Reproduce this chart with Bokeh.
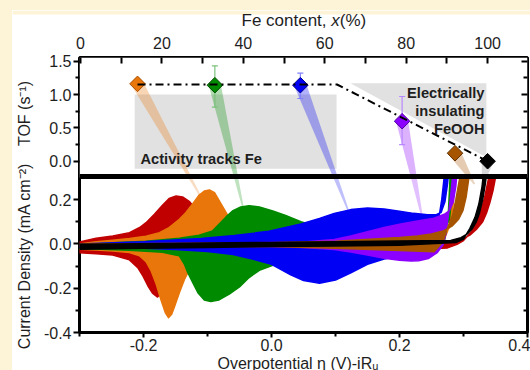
import numpy as np
from bokeh.plotting import figure
from bokeh.layouts import row, column
from bokeh.models import (Range1d, LinearAxis, FixedTicker, NumeralTickFormatter,
                          CustomJSTickFormatter, Label, Span, Spacer)
from bokeh.embed import file_html
from bokeh.resources import INLINE

FONT = "Liberation Sans"
INK = "#1e1e1e"
CREAM = "#FDF3D6"

# ---------------- TOF vs Fe content (upper panel) ----------------
fe_content = [14, 33, 54, 79, 92, 100]             # Fe content x (%)
tof_value = [1.16, 1.14, 1.14, 0.60, 0.12, 0.0]    # TOF (s^-1)
tof_err_low = [1.16, 0.81, 0.94, 0.25, 0.12, 0.0]
tof_err_high = [1.16, 1.43, 1.32, 0.97, 0.12, 0.0]
guide_fe = [14, 63, 100]
guide_tof = [1.15, 1.15, 0.0]

fe_ticks = [0, 20, 40, 60, 80, 100]
fe_minor = [10, 30, 50, 70, 90]
tof_ticks = [0.0, 0.5, 1.0, 1.5]
tof_minor = [0.25, 0.75, 1.25]

sample_fill = ["#E8760A", "#008A00", "#0000F5", "#8C00FF", "#A65400", "#000000"]
sample_edge = ["#A85000", "#004A00", "#00008A", "#5200A0", "#603000", "#000000"]
sample_err = ["#F0B07A", "#7CC27C", "#8080FF", "#B888FF", "#D0A070", "#808080"]
pointer_alpha = [0.3, 0.3, 0.3, 0.3, 0.3, 0.15]

# point of each voltammogram that the pointer from its TOF marker lands on
pointer_eta = [-0.112, -0.045, 0.120, 0.235, 0.317, 0.330]
pointer_j = [0.220, 0.170, 0.150, 0.125, 0.270, 0.270]

# ---------------- cyclic voltammograms (lower panel) ----------------
eta_ticks = [-0.2, 0.0, 0.2, 0.4]
eta_minor = [-0.3, -0.1, 0.1, 0.3]
j_ticks = [-0.4, -0.2, 0.0, 0.2]
j_minor = [-0.3, -0.1, 0.1]

red_eta_up = [-0.300, -0.274, -0.248, -0.222, -0.206, -0.196, -0.183, -0.170, -0.160, -0.149,
              -0.139, -0.128, -0.121, -0.112, -0.100, -0.085, -0.060, -0.020, 0.050, 0.150,
              0.250, 0.280, 0.300, 0.310, 0.320, 0.330, 0.336, 0.341, 0.346, 0.350, 0.354]
red_j_up = [0.009, 0.026, 0.036, 0.051, 0.074, 0.096, 0.134, 0.176, 0.205, 0.217,
            0.212, 0.191, 0.167, 0.130, 0.090, 0.055, 0.035, 0.025, 0.020, 0.018,
            0.012, 0.012, 0.025, 0.040, 0.065, 0.100, 0.140, 0.185, 0.240, 0.300, 0.360]
red_eta_dn = [0.344, 0.338, 0.333, 0.327, 0.320, 0.311, 0.300, 0.290, 0.275, 0.230,
              0.150, 0.050, -0.050, -0.100, -0.125, -0.140, -0.150, -0.160, -0.170, -0.178,
              -0.186, -0.193, -0.201, -0.209, -0.222, -0.248, -0.274, -0.300]
red_j_dn = [0.360, 0.280, 0.210, 0.150, 0.095, 0.050, 0.015, -0.002, -0.018, -0.024,
            -0.026, -0.028, -0.033, -0.045, -0.060, -0.080, -0.110, -0.165, -0.215, -0.240,
            -0.222, -0.190, -0.144, -0.107, -0.072, -0.050, -0.044, -0.040]

orange_eta_up = [-0.300, -0.274, -0.248, -0.222, -0.196, -0.175, -0.160, -0.144, -0.134, -0.123,
                 -0.113, -0.105, -0.097, -0.089, -0.082, -0.074, -0.066, -0.055, -0.040, -0.020,
                 0.050, 0.150, 0.250, 0.272, 0.279, 0.283, 0.286, 0.289]
orange_j_up = [0.000, 0.010, 0.017, 0.024, 0.035, 0.051, 0.074, 0.111, 0.141, 0.182,
               0.221, 0.239, 0.244, 0.232, 0.197, 0.157, 0.116, 0.080, 0.055, 0.040,
               0.030, 0.026, 0.030, 0.045, 0.080, 0.150, 0.260, 0.360]
orange_eta_dn = [0.285, 0.282, 0.278, 0.270, 0.250, 0.150, 0.050, -0.040, -0.080, -0.100,
                 -0.110, -0.120, -0.128, -0.136, -0.144, -0.152, -0.156, -0.161, -0.166, -0.173,
                 -0.180, -0.188, -0.196, -0.206, -0.222, -0.248, -0.274, -0.300]
orange_j_dn = [0.360, 0.200, 0.080, 0.020, -0.010, -0.020, -0.021, -0.026, -0.034, -0.045,
               -0.058, -0.080, -0.114, -0.160, -0.220, -0.287, -0.318, -0.333, -0.310, -0.250,
               -0.182, -0.122, -0.080, -0.054, -0.039, -0.032, -0.027, -0.024]

green_eta_up = [-0.300, -0.248, -0.196, -0.144, -0.113, -0.092, -0.082, -0.071, -0.061, -0.048,
                -0.035, -0.019, 0.002, 0.022, 0.046, 0.070, 0.120, 0.200, 0.250, 0.270,
                0.278, 0.282, 0.285]
green_j_up = [-0.005, 0.005, 0.012, 0.026, 0.039, 0.059, 0.089, 0.122, 0.149, 0.167,
              0.173, 0.167, 0.149, 0.129, 0.100, 0.080, 0.060, 0.050, 0.050, 0.065,
              0.110, 0.220, 0.360]
green_eta_dn = [0.280, 0.276, 0.270, 0.250, 0.200, 0.150, 0.100, 0.060, 0.030, 0.002,
                -0.019, -0.035, -0.050, -0.066, -0.082, -0.095, -0.105, -0.115, -0.123, -0.131,
                -0.136, -0.144, -0.170, -0.222, -0.300]
green_j_dn = [0.360, 0.120, 0.010, -0.030, -0.050, -0.060, -0.075, -0.085, -0.090, -0.096,
              -0.119, -0.152, -0.194, -0.227, -0.253, -0.260, -0.253, -0.220, -0.175, -0.129,
              -0.092, -0.054, -0.038, -0.029, -0.021]

blue_eta_up = [-0.300, -0.200, -0.110, -0.058, -0.004, 0.046, 0.075, 0.098, 0.124, 0.150,
               0.176, 0.200, 0.222, 0.244, 0.258, 0.265, 0.271, 0.275, 0.278]
blue_j_up = [0.000, 0.010, 0.025, 0.038, 0.057, 0.090, 0.115, 0.138, 0.155, 0.162,
             0.158, 0.148, 0.138, 0.132, 0.133, 0.142, 0.190, 0.270, 0.360]
blue_eta_dn = [0.272, 0.266, 0.260, 0.250, 0.230, 0.200, 0.176, 0.150, 0.124, 0.100,
               0.075, 0.050, 0.030, 0.000, -0.030, -0.060, -0.100, -0.150, -0.200, -0.300]
blue_j_dn = [0.360, 0.200, 0.090, 0.020, -0.040, -0.055, -0.068, -0.092, -0.130, -0.163,
             -0.178, -0.165, -0.140, -0.092, -0.068, -0.048, -0.034, -0.025, -0.020, -0.015]

purple_eta_up = [-0.300, -0.100, 0.000, 0.046, 0.098, 0.124, 0.150, 0.176, 0.202, 0.228,
                 0.254, 0.270, 0.278, 0.284, 0.288, 0.291]
purple_j_up = [-0.002, 0.003, 0.006, 0.008, 0.020, 0.036, 0.055, 0.074, 0.090, 0.104,
               0.116, 0.134, 0.150, 0.190, 0.260, 0.360]
purple_eta_dn = [0.285, 0.280, 0.276, 0.272, 0.268, 0.259, 0.245, 0.230, 0.218, 0.200,
                 0.176, 0.150, 0.124, 0.098, 0.050, 0.000, -0.300]
purple_j_dn = [0.360, 0.220, 0.120, 0.040, -0.005, -0.039, -0.066, -0.076, -0.077, -0.074,
               -0.065, -0.050, -0.036, -0.025, -0.016, -0.012, -0.010]

brown_eta_up = [-0.300, 0.000, 0.100, 0.200, 0.228, 0.250, 0.268, 0.282, 0.292, 0.299,
                0.304, 0.308, 0.311]
brown_j_up = [0.000, 0.005, 0.012, 0.029, 0.036, 0.045, 0.058, 0.080, 0.110, 0.150,
              0.210, 0.290, 0.360]
brown_eta_dn = [0.298, 0.293, 0.288, 0.283, 0.274, 0.268, 0.254, 0.200, 0.100, 0.000, -0.300]
brown_j_dn = [0.360, 0.280, 0.200, 0.130, 0.065, 0.010, -0.035, -0.030, -0.020, -0.012, -0.008]

black_eta_up = [-0.300, -0.200, -0.100, 0.000, 0.100, 0.200, 0.280, 0.296, 0.306, 0.314,
                0.320, 0.325, 0.330, 0.334, 0.338]
black_j_up = [-0.002, 0.001, 0.004, 0.007, 0.010, 0.013, 0.016, 0.028, 0.045, 0.070,
              0.100, 0.140, 0.200, 0.270, 0.360]
black_eta_dn = [0.333, 0.329, 0.324, 0.318, 0.310, 0.300, 0.288, 0.200, 0.100, 0.000,
                -0.100, -0.200, -0.300]
black_j_dn = [0.360, 0.260, 0.180, 0.120, 0.070, 0.022, 0.006, -0.006, -0.009, -0.012,
              -0.016, -0.020, -0.024]

cv_colors = ["#C00000", "#E8760A", "#008A00", "#0000F5", "#8C00FF", "#A65400", "#000000"]
cv_loops = [
    (red_eta_up, red_j_up, red_eta_dn, red_j_dn),
    (orange_eta_up, orange_j_up, orange_eta_dn, orange_j_dn),
    (green_eta_up, green_j_up, green_eta_dn, green_j_dn),
    (blue_eta_up, blue_j_up, blue_eta_dn, blue_j_dn),
    (purple_eta_up, purple_j_up, purple_eta_dn, purple_j_dn),
    (brown_eta_up, brown_j_up, brown_eta_dn, brown_j_dn),
    (black_eta_up, black_j_up, black_eta_dn, black_j_dn),
]

# ---------------- page geometry ----------------
PAGE_W, PAGE_H = 530, 370
PAD_L, PAD_T = 12, 14           # cream margin, left and top
TITLE_REACH = 4                 # the title strip starts this far inside the cream margin
TITLE_H = 16                    # strip above the plot holding the Fe-content title
FOOT_H = 14                     # strip below the plot holding the overpotential title
YTITLE_W = 28                   # strip left of the plot holding the vertical titles
FRAME_W, FRAME_H = 448, 275     # one frame holds both panels
TOP_H = 118                     # height of the TOF panel
SPLIT_PX = 120                  # where the current-density panel begins
FRAME_X0, FRAME_Y0 = 79, 57     # frame corner on the page
ETA_RANGE = (-0.3, 0.4)
J_RANGE = (-0.4, 0.3)
FE_RANGE = (-0.25, 109.8)
TOF_RANGE = (-0.214, 1.555)

PLOT_Y0 = PAD_T + TITLE_H
PLOT_H = PAGE_H - PLOT_Y0 - FOOT_H
PLOT_X0 = PAD_L + YTITLE_W
PLOT_W = PAGE_W - PLOT_X0
BORDER_L = FRAME_X0 - PLOT_X0
BORDER_R = PLOT_W - BORDER_L - FRAME_W

j_per_px = (J_RANGE[1] - J_RANGE[0]) / (FRAME_H - SPLIT_PX)
Y_END = J_RANGE[1] + SPLIT_PX * j_per_px
tof_per_px = (TOF_RANGE[1] - TOF_RANGE[0]) / TOP_H
TOF_FULL_LO = TOF_RANGE[1] - FRAME_H * tof_per_px
eta_per_px = (ETA_RANGE[1] - ETA_RANGE[0]) / FRAME_W
fe_per_px = (FE_RANGE[1] - FE_RANGE[0]) / FRAME_W
# TOF expressed on the current-density axis: tof = a * y + b
tof_a = tof_per_px / j_per_px
tof_b = TOF_RANGE[1] - Y_END * tof_a


def mid_from_baseline(baseline_py, size_px):
    """Labels are anchored on the middle of their text box; convert from a baseline."""
    return baseline_py - 0.3465 * size_px


def page_to_data(px, py):
    return (ETA_RANGE[0] + (px - FRAME_X0) * eta_per_px,
            Y_END - (py - FRAME_Y0) * j_per_px)


def fe_tof_to_page(fe, t):
    return (FRAME_X0 + (fe - FE_RANGE[0]) / fe_per_px,
            FRAME_Y0 + (TOF_RANGE[1] - t) / tof_per_px)


def eta_j_to_page(e, j):
    return (FRAME_X0 + (e - ETA_RANGE[0]) / eta_per_px,
            FRAME_Y0 + (Y_END - j) / j_per_px)


p = figure(width=PLOT_W, height=PLOT_H,
           x_range=Range1d(*ETA_RANGE), y_range=Range1d(J_RANGE[0], Y_END),
           min_border_left=BORDER_L, min_border_right=BORDER_R,
           min_border_top=FRAME_Y0 - PLOT_Y0,
           min_border_bottom=PLOT_H - (FRAME_Y0 - PLOT_Y0) - FRAME_H,
           toolbar_location=None, output_backend="svg")
p.extra_x_ranges = {"fe": Range1d(*FE_RANGE)}
p.extra_y_ranges = {"tof": Range1d(TOF_FULL_LO, TOF_RANGE[1])}
p.xgrid.visible = False
p.ygrid.visible = False
p.background_fill_color = "white"
p.border_fill_color = "white"
p.outline_line_color = "black"
p.outline_line_width = 3


def style_axis(ax, tick_out, tick_in, minor_out, minor_in, standoff):
    ax.axis_line_color = None
    ax.major_tick_line_color = "black"
    ax.major_tick_line_width = 2
    ax.minor_tick_line_color = "black"
    ax.minor_tick_line_width = 2
    ax.major_tick_out = tick_out
    ax.major_tick_in = tick_in
    ax.minor_tick_out = minor_out
    ax.minor_tick_in = minor_in
    ax.major_label_standoff = standoff
    ax.major_label_text_font = FONT
    ax.major_label_text_font_size = "16px"
    ax.major_label_text_color = INK


split_y = Y_END - (SPLIT_PX - 1) * j_per_px
left_major = j_ticks + [(t - tof_b) / tof_a for t in tof_ticks]
left_minor = j_minor + [(t - tof_b) / tof_a for t in tof_minor]
left_fmt = CustomJSTickFormatter(args=dict(split=split_y, a=tof_a, b=tof_b), code="""
    let v = tick > split ? a * tick + b : tick;
    if (Math.abs(v) < 1e-6) { v = 0; }
    return v.toFixed(1);
""")

# bottom axis: overpotential
xb = p.xaxis[0]
xb.ticker = FixedTicker(ticks=eta_ticks, minor_ticks=eta_minor)
xb.formatter = NumeralTickFormatter(format="0.0")
style_axis(xb, 5, 0, 4, 0, 1)

# left axis: current density below, TOF above
yl = p.yaxis[0]
yl.ticker = FixedTicker(ticks=left_major, minor_ticks=left_minor)
yl.formatter = left_fmt
style_axis(yl, 6, 0, 4, 0, 2)

# top axis: Fe content
xt = LinearAxis(x_range_name="fe", ticker=FixedTicker(ticks=fe_ticks, minor_ticks=fe_minor),
                formatter=NumeralTickFormatter(format="0"))
style_axis(xt, 0, 6, 0, 6, 9)
p.add_layout(xt, "above")

# right axis: inward ticks only
yr = LinearAxis(ticker=FixedTicker(ticks=left_major, minor_ticks=left_minor),
                formatter=CustomJSTickFormatter(code="return '';"))
style_axis(yr, 0, 6, 0, 4, 0)
yr.major_label_text_font_size = "0px"
p.add_layout(yr, "right")

# pointers from each TOF marker to its voltammogram, split at the panel border
top_xs, top_ys, bot_xs, bot_ys = [], [], [], []
split_py = FRAME_Y0 + SPLIT_PX - 1
for fe, t, e, j in zip(fe_content, tof_value, pointer_eta, pointer_j):
    b = np.array(fe_tof_to_page(fe, t))
    tip = np.array(eta_j_to_page(e, j))
    d = tip - b
    u = d / np.hypot(*d)
    n = np.array([-u[1], u[0]])
    s = (split_py - b[1]) / d[1]
    c = b + s * d
    w0, w1 = 6.0, 0.8
    wc = w0 + (w1 - w0) * s
    top_poly = [b + n * w0, c + n * wc, c - n * wc, b - n * w0]
    bot_poly = [c + n * wc, tip + n * w1, tip - n * w1, c - n * wc]
    tp = [page_to_data(*q) for q in top_poly]
    bp = [page_to_data(*q) for q in bot_poly]
    top_xs.append([q[0] for q in tp]); top_ys.append([q[1] for q in tp])
    bot_xs.append([q[0] for q in bp]); bot_ys.append([q[1] for q in bp])

p.patches(bot_xs, bot_ys, fill_color=sample_fill, fill_alpha=0.25, line_color=None)

# voltammograms: anodic sweep out, cathodic sweep back
for (eu, ju, ed, jd), col in zip(cv_loops, cv_colors):
    p.patch(eu + ed, ju + jd, fill_color=col, line_color=col, line_width=1.5,
            line_join="round")

# blank the upper panel area above the current-density range
p.quad(left=[ETA_RANGE[0]], right=[ETA_RANGE[1]], bottom=[J_RANGE[1]], top=[Y_END],
       fill_color="white", line_color=None)

# shaded regions of the TOF panel
p.quad(left=[13.3], right=[62.9], bottom=[-0.114], top=[1.0],
       x_range_name="fe", y_range_name="tof", fill_color="#E1E1E1", line_color=None)
p.patch([66.3, 99.7, 99.7], [1.17, 1.17, 0.06],
        x_range_name="fe", y_range_name="tof", fill_color="#E1E1E1", line_color=None)

p.patches(top_xs, top_ys, fill_color=sample_fill, fill_alpha=pointer_alpha, line_color=None)

# error bars
p.segment(x0=fe_content, y0=tof_err_low, x1=fe_content, y1=tof_err_high,
          x_range_name="fe", y_range_name="tof", line_color=sample_err, line_width=1.2)
p.scatter(fe_content + fe_content, tof_err_low + tof_err_high, marker="dash", size=6,
          x_range_name="fe", y_range_name="tof", line_color=sample_err + sample_err,
          line_width=1.2)

p.scatter(fe_content, tof_value, marker="square", angle=np.pi / 4, size=11,
          x_range_name="fe", y_range_name="tof",
          fill_color=sample_fill, line_color=sample_edge, line_width=1)

p.line(guide_fe, guide_tof, x_range_name="fe", y_range_name="tof",
       line_color="black", line_width=2, line_dash="8 4 2 4")

# thick border between the two panels
p.add_layout(Span(location=split_y, dimension="width", line_color="black", line_width=5))

NOTE_PX = 14.67   # 11pt


def add_note(px, baseline_py, text, align="left"):
    x, y = page_to_data(px, mid_from_baseline(baseline_py, NOTE_PX))
    p.add_layout(Label(x=x, y=y, text=text, text_font=FONT, text_font_size="11pt",
                       text_font_style="bold", text_color=INK, text_align=align,
                       text_baseline="middle"))


# panel annotations
add_note(140, 164, "Activity tracks Fe")
add_note(484, 97.7, "Electrically", align="right")
add_note(484, 115.3, "insulating", align="right")
add_note(484, 133.3, "FeOOH", align="right")


def text_strip(x0, y0, w, h, border_l=0, border_r=0):
    """Blank figure over a page rectangle; data units are page pixels
    (y counted downward as negative values)."""
    fx0 = x0 + border_l
    fx1 = x0 + w - border_r
    f = figure(width=w, height=h, x_range=Range1d(fx0, fx1), y_range=Range1d(-(y0 + h), -y0),
               x_axis_location=None, y_axis_location=None,
               min_border_left=border_l, min_border_right=border_r,
               min_border_top=0, min_border_bottom=0,
               toolbar_location=None, output_backend="svg")
    f.grid.visible = False
    f.outline_line_color = None
    f.background_fill_color = "white"
    f.border_fill_color = "white"
    return f


def strip_label(f, px, py_mid, text, size_px=16, style="normal", align="left", angle=0.0):
    f.add_layout(Label(x=px, y=-py_mid, text=text, text_font=FONT,
                       text_font_size=f"{size_px}px", text_font_style=style,
                       text_color=INK, text_align=align, text_baseline="middle",
                       angle=angle))


# Fe content title, with the composition variable in italics; the strip reaches a few
# pixels into the cream margin, which it repaints behind the title
top_strip = text_strip(PAD_L, PAD_T - TITLE_REACH, PAGE_W - PAD_L, TITLE_H + TITLE_REACH)
top_strip.quad(left=[PAD_L], right=[PAGE_W], bottom=[-PAD_T], top=[-(PAD_T - TITLE_REACH)],
               fill_color=CREAM, line_color=None)
title_mid = mid_from_baseline(26, 17)
strip_label(top_strip, 241, title_mid, "Fe content, ", size_px=17)
strip_label(top_strip, 330.8, title_mid, "x", size_px=17, style="italic")
strip_label(top_strip, 339.3, title_mid, " (%)", size_px=17)

# vertical titles (box centre 5.5 px inside their baseline)
side_strip = text_strip(PAD_L, PLOT_Y0, YTITLE_W, PAGE_H - PLOT_Y0)
strip_label(side_strip, 24, 113, "TOF (s\u207b\u00b9)", align="center", angle=np.pi / 2)
strip_label(side_strip, 24, 255.5, "Current Density (mA cm\u207b\u00b2)", align="center",
            angle=np.pi / 2)

# overpotential title, running off the bottom edge
foot_strip = text_strip(PLOT_X0, PAGE_H - FOOT_H, PLOT_W, FOOT_H, BORDER_L, BORDER_R)
strip_label(foot_strip, 217, mid_from_baseline(369, 16), "Overpotential \u03b7 (V)-iR\u1d64")

layout = row(Spacer(width=PAD_L, height=PAGE_H, styles={"background-color": CREAM}),
             column(Spacer(width=PAGE_W - PAD_L, height=PAD_T - TITLE_REACH,
                           styles={"background-color": CREAM}),
                    top_strip,
                    row(column(side_strip), column(p, foot_strip))))

open("out.html", "w").write(file_html(layout, INLINE))
